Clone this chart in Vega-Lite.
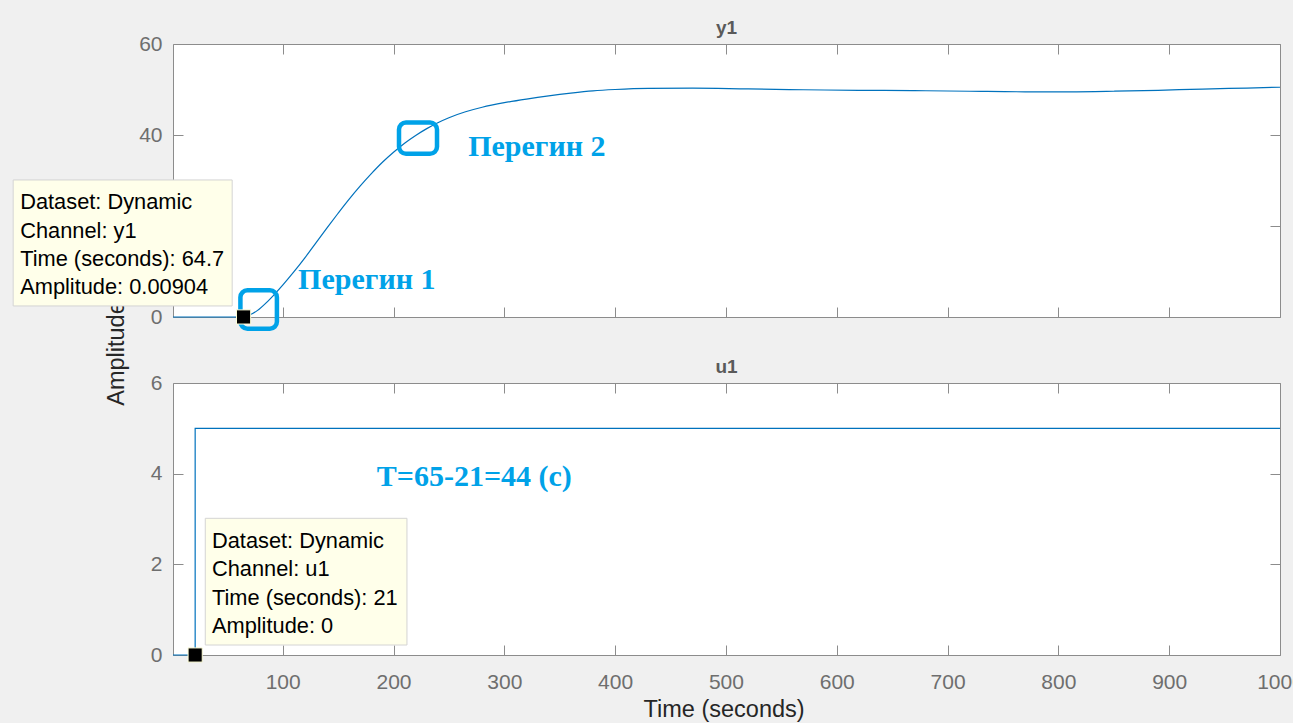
{
  "$schema": "https://vega.github.io/schema/vega-lite/v6.json",
  "background": "#f0f0f0",
  "padding": {"left": 12, "top": 19, "right": 0, "bottom": 2},
  "spacing": 66,
  "bounds": "flush",
  "datasets": {
    "y1": [
      {"t": 1, "amp": 0}, {"t": 30, "amp": 0}, {"t": 64, "amp": 0}, {"t": 64.7, "amp": 0.009},
      {"t": 70, "amp": 0.45}, {"t": 77, "amp": 1.4}, {"t": 85, "amp": 3.1}, {"t": 93, "amp": 5.1},
      {"t": 100, "amp": 7.0}, {"t": 110, "amp": 9.9}, {"t": 120, "amp": 13.0}, {"t": 130, "amp": 16.3},
      {"t": 140, "amp": 19.6}, {"t": 150, "amp": 22.8}, {"t": 160, "amp": 25.9}, {"t": 170, "amp": 28.8},
      {"t": 180, "amp": 31.5}, {"t": 190, "amp": 34.0}, {"t": 200, "amp": 36.2}, {"t": 210, "amp": 38.2},
      {"t": 220, "amp": 39.9}, {"t": 230, "amp": 41.4}, {"t": 240, "amp": 42.7}, {"t": 250, "amp": 43.8},
      {"t": 265, "amp": 45.1}, {"t": 280, "amp": 46.1}, {"t": 300, "amp": 47.1}, {"t": 320, "amp": 47.9},
      {"t": 340, "amp": 48.6}, {"t": 360, "amp": 49.2}, {"t": 380, "amp": 49.7}, {"t": 400, "amp": 50.0},
      {"t": 430, "amp": 50.25}, {"t": 470, "amp": 50.3}, {"t": 520, "amp": 50.12}, {"t": 570, "amp": 49.95},
      {"t": 620, "amp": 49.82}, {"t": 670, "amp": 49.75}, {"t": 720, "amp": 49.62}, {"t": 770, "amp": 49.5},
      {"t": 810, "amp": 49.5}, {"t": 850, "amp": 49.62}, {"t": 890, "amp": 49.82}, {"t": 930, "amp": 50.1},
      {"t": 970, "amp": 50.32}, {"t": 1000, "amp": 50.5}
    ],
    "u1": [{"t": 1, "amp": 0}, {"t": 21, "amp": 5}, {"t": 1000, "amp": 5}],
    "tipY": [{"t": 64.7, "amp": 0.00904, "label": "Dataset: Dynamic\nChannel: y1\nTime (seconds): 64.7\nAmplitude: 0.00904"}],
    "tipU": [{"t": 21, "amp": 0, "label": "Dataset: Dynamic\nChannel: u1\nTime (seconds): 21\nAmplitude: 0"}],
    "boxY": [{"k": 1, "t": 78.3, "amp": 1.65}, {"k": 2, "t": 222.1, "amp": 39.3}],
    "notesY": [{"t": 113.9, "amp": 6.15, "label": "Перегин 1"}, {"t": 267.4, "amp": 35.4, "label": "Перегин 2"}],
    "notesU": [{"t": 184.9, "amp": 3.73, "label": "T=65-21=44 (с)"}]
  },
  "vconcat": [
    {
      "width": 1107,
      "height": 273,
      "title": {"text": "y1"},
      "resolve": {"axis": {"x": "independent", "y": "independent"}},
      "layer": [
        {
          "data": {"name": "y1"},
          "mark": {"type": "line", "color": "#0072bd", "strokeWidth": 1.2, "interpolate": "monotone"},
          "encoding": {
            "x": {"field": "t", "type": "quantitative", "scale": {"domain": [1, 1000], "nice": false, "zero": false},
                  "axis": {"orient": "bottom", "labels": false, "title": null, "values": [100, 200, 300, 400, 500, 600, 700, 800, 900, 1000]}},
            "y": {"field": "amp", "type": "quantitative", "scale": {"domain": [0, 60], "nice": false},
                  "axis": {"orient": "left", "values": [0, 20, 40, 60], "title": "Amplitude", "titleX": -49.5, "titleY": 309, "titleAngle": -90, "titleAlign": "center", "titleBaseline": "alphabetic"}}
          }
        },
        {
          "data": {"name": "boxY"},
          "transform": [{"filter": "datum.k == 1"}],
          "mark": {"type": "rect", "fill": "transparent", "stroke": "#00a2e8", "strokeWidth": 4.5, "cornerRadius": 7, "xOffset": -18.25, "x2Offset": 18.25, "yOffset": -19.25, "y2Offset": 19.25},
          "encoding": {
            "x": {"field": "t", "type": "quantitative", "scale": {"domain": [1, 1000], "nice": false, "zero": false}, "axis": null},
            "x2": {"field": "t"},
            "y": {"field": "amp", "type": "quantitative", "scale": {"domain": [0, 60], "nice": false}, "axis": null},
            "y2": {"field": "amp"}
          }
        },
        {
          "data": {"name": "boxY"},
          "transform": [{"filter": "datum.k == 2"}],
          "mark": {"type": "rect", "fill": "transparent", "stroke": "#00a2e8", "strokeWidth": 4.5, "cornerRadius": 7, "xOffset": -19, "x2Offset": 19, "yOffset": -15.6, "y2Offset": 15.6},
          "encoding": {
            "x": {"field": "t", "type": "quantitative", "scale": {"domain": [1, 1000], "nice": false, "zero": false}, "axis": null},
            "x2": {"field": "t"},
            "y": {"field": "amp", "type": "quantitative", "scale": {"domain": [0, 60], "nice": false}, "axis": null},
            "y2": {"field": "amp"}
          }
        },
        {
          "data": {"name": "tipY"},
          "mark": {"type": "point", "shape": "square", "filled": true, "fill": "#000000", "stroke": "#ffffd9", "strokeWidth": 1, "size": 200, "opacity": 1},
          "encoding": {
            "x": {"field": "t", "type": "quantitative", "scale": {"domain": [1, 1000], "nice": false, "zero": false},
                  "axis": {"orient": "top", "labels": false, "title": null, "values": [100, 200, 300, 400, 500, 600, 700, 800, 900, 1000]}},
            "y": {"field": "amp", "type": "quantitative", "scale": {"domain": [0, 60], "nice": false},
                  "axis": {"orient": "right", "labels": false, "title": null, "values": [0, 20, 40, 60]}}
          }
        },
        {
          "data": {"name": "notesY"},
          "mark": {"type": "text", "align": "left", "baseline": "alphabetic", "font": "Liberation Serif", "fontWeight": "bold", "fontSize": 30, "color": "#00a2e8"},
          "encoding": {
            "x": {"field": "t", "type": "quantitative", "scale": {"domain": [1, 1000], "nice": false, "zero": false}, "axis": null},
            "y": {"field": "amp", "type": "quantitative", "scale": {"domain": [0, 60], "nice": false}, "axis": null},
            "text": {"field": "label"}
          }
        },
        {
          "data": {"name": "tipY"},
          "mark": {"type": "rect", "fill": "#ffffea", "stroke": "#d4d4d4", "strokeWidth": 1, "xOffset": -230.4, "x2Offset": -11.4, "yOffset": -137, "y2Offset": -11},
          "encoding": {
            "x": {"field": "t", "type": "quantitative", "scale": {"domain": [1, 1000], "nice": false, "zero": false}, "axis": null},
            "x2": {"field": "t"},
            "y": {"field": "amp", "type": "quantitative", "scale": {"domain": [0, 60], "nice": false}, "axis": null},
            "y2": {"field": "amp"}
          }
        },
        {
          "data": {"name": "tipY"},
          "mark": {"type": "text", "align": "left", "baseline": "top", "dx": -223.4, "dy": -124.7, "font": "Liberation Sans", "fontSize": 21.8, "lineHeight": 28.3, "lineBreak": "\n", "color": "#000000"},
          "encoding": {
            "x": {"field": "t", "type": "quantitative", "scale": {"domain": [1, 1000], "nice": false, "zero": false}, "axis": null},
            "y": {"field": "amp", "type": "quantitative", "scale": {"domain": [0, 60], "nice": false}, "axis": null},
            "text": {"field": "label"}
          }
        }
      ]
    },
    {
      "width": 1107,
      "height": 272,
      "title": {"text": "u1"},
      "resolve": {"axis": {"x": "independent", "y": "independent"}},
      "layer": [
        {
          "data": {"name": "u1"},
          "mark": {"type": "line", "color": "#0072bd", "strokeWidth": 1.2, "interpolate": "step-after"},
          "encoding": {
            "x": {"field": "t", "type": "quantitative", "scale": {"domain": [1, 1000], "nice": false, "zero": false},
                  "axis": {"orient": "bottom", "labelFlush": false, "format": "d", "values": [100, 200, 300, 400, 500, 600, 700, 800, 900, 1000], "title": "Time (seconds)", "titleX": 550.6, "titleY": 61, "titleBaseline": "alphabetic"}},
            "y": {"field": "amp", "type": "quantitative", "scale": {"domain": [0, 6], "nice": false},
                  "axis": {"orient": "left", "values": [0, 2, 4, 6], "title": null}}
          }
        },
        {
          "data": {"name": "tipU"},
          "mark": {"type": "point", "shape": "square", "filled": true, "fill": "#000000", "stroke": "#ffffd9", "strokeWidth": 1, "size": 200, "opacity": 1},
          "encoding": {
            "x": {"field": "t", "type": "quantitative", "scale": {"domain": [1, 1000], "nice": false, "zero": false},
                  "axis": {"orient": "top", "labels": false, "title": null, "values": [100, 200, 300, 400, 500, 600, 700, 800, 900, 1000]}},
            "y": {"field": "amp", "type": "quantitative", "scale": {"domain": [0, 6], "nice": false},
                  "axis": {"orient": "right", "labels": false, "title": null, "values": [0, 2, 4, 6]}}
          }
        },
        {
          "data": {"name": "notesU"},
          "mark": {"type": "text", "align": "left", "baseline": "alphabetic", "font": "Liberation Serif", "fontWeight": "bold", "fontSize": 30, "color": "#00a2e8"},
          "encoding": {
            "x": {"field": "t", "type": "quantitative", "scale": {"domain": [1, 1000], "nice": false, "zero": false}, "axis": null},
            "y": {"field": "amp", "type": "quantitative", "scale": {"domain": [0, 6], "nice": false}, "axis": null},
            "text": {"field": "label"}
          }
        },
        {
          "data": {"name": "tipU"},
          "mark": {"type": "rect", "fill": "#ffffea", "stroke": "#d4d4d4", "strokeWidth": 1, "xOffset": 10.1, "x2Offset": 211.8, "yOffset": -136.7, "y2Offset": -10},
          "encoding": {
            "x": {"field": "t", "type": "quantitative", "scale": {"domain": [1, 1000], "nice": false, "zero": false}, "axis": null},
            "x2": {"field": "t"},
            "y": {"field": "amp", "type": "quantitative", "scale": {"domain": [0, 6], "nice": false}, "axis": null},
            "y2": {"field": "amp"}
          }
        },
        {
          "data": {"name": "tipU"},
          "mark": {"type": "text", "align": "left", "baseline": "top", "dx": 16.8, "dy": -124, "font": "Liberation Sans", "fontSize": 21.8, "lineHeight": 28.3, "lineBreak": "\n", "color": "#000000"},
          "encoding": {
            "x": {"field": "t", "type": "quantitative", "scale": {"domain": [1, 1000], "nice": false, "zero": false}, "axis": null},
            "y": {"field": "amp", "type": "quantitative", "scale": {"domain": [0, 6], "nice": false}, "axis": null},
            "text": {"field": "label"}
          }
        }
      ]
    }
  ],
  "config": {
    "view": {"stroke": null, "fill": "#ffffff"},
    "axis": {
      "grid": false, "zindex": 0,
      "domainColor": "#8c8c8c", "domainWidth": 1,
      "tickColor": "#8c8c8c", "tickWidth": 1, "tickSize": -10,
      "labelFont": "Liberation Sans", "labelFontSize": 21, "labelColor": "#6e6e6e",
      "titleFont": "Liberation Sans", "titleFontSize": 23.5, "titleFontWeight": "normal", "titleColor": "#262626"
    },
    "axisLeft": {"labelPadding": 21},
    "axisBottom": {"labelPadding": 26},
    "title": {"font": "Liberation Sans", "fontSize": 19, "fontWeight": "bold", "color": "#5a5a5a", "frame": "group", "offset": -5, "baseline": "bottom"}
  }
}
